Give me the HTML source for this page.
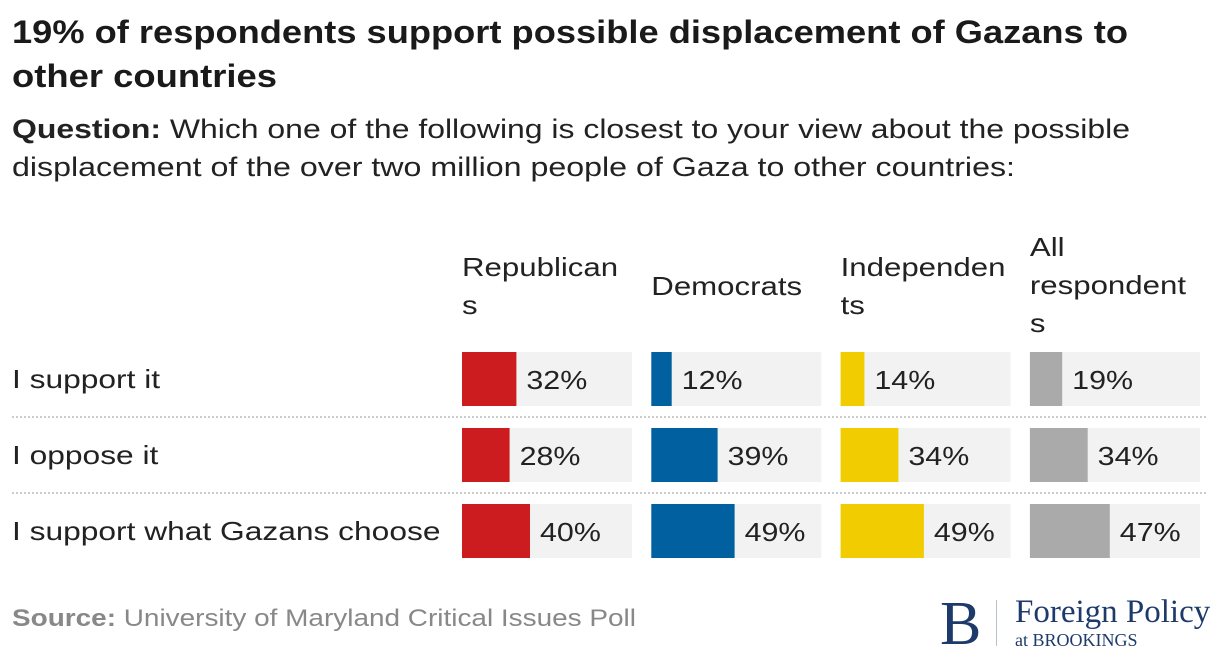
<!DOCTYPE html>
<html><head><meta charset="utf-8"><style>
body{margin:0;background:#fff;width:1220px;height:660px;overflow:hidden;font-family:"Liberation Sans",sans-serif}
</style></head><body>
<svg width="1220" height="660" xmlns="http://www.w3.org/2000/svg">
<text x="12" y="43" font-size="32" font-weight="bold" fill="#1a1a1a" textLength="1116" lengthAdjust="spacingAndGlyphs">19% of respondents support possible displacement of Gazans to</text>
<text x="12" y="87" font-size="32" font-weight="bold" fill="#1a1a1a" textLength="265" lengthAdjust="spacingAndGlyphs">other countries</text>
<text x="12" y="138" font-size="27" fill="#222" textLength="1118" lengthAdjust="spacingAndGlyphs"><tspan font-weight="bold">Question:</tspan> Which one of the following is closest to your view about the possible</text>
<text x="12" y="176" font-size="27" fill="#222" textLength="1003" lengthAdjust="spacingAndGlyphs">displacement of the over two million people of Gaza to other countries:</text>
<g id="chart" font-size="26" fill="#222"></g>
<text x="12" y="626" font-size="24" fill="#888" textLength="624" lengthAdjust="spacingAndGlyphs"><tspan font-weight="bold">Source:</tspan> University of Maryland Critical Issues Poll</text>
<g fill="#1d3a6b" font-family="Liberation Serif, serif">
<text x="940" y="644" font-size="62">B</text>
<rect x="996" y="600" width="1" height="46" fill="#b8c0cc"/>
<text x="1015" y="622" font-size="33">Foreign Policy</text>
<text x="1015" y="646" font-size="18">at BROOKINGS</text>
</g>
</svg>
<script>
const categories=["I support it","I oppose it","I support what Gazans choose"];
const groups=["Republicans","Democrats","Independents","All respondents"];
const republicans=[32,28,40];
const democrats=[12,39,49];
const independents=[14,34,49];
const allRespondents=[19,34,47];
const series=[republicans,democrats,independents,allRespondents];
const colors=["#cc1c1f","#0060a0","#f0cc00","#aaaaaa"];
const headerLines=[["Republican","s"],["Democrats"],["Independen","ts"],["All","respondent","s"]];
const NS="http://www.w3.org/2000/svg";
const g=document.getElementById("chart");
const colX=i=>462+i*189.3, rowY=j=>352+j*76, W=170, H=54;
const xs=v=>v/100*W;
function mk(t,a){const e=document.createElementNS(NS,t);for(const k in a)e.setAttribute(k,a[k]);g.appendChild(e);return e;}
function widen(t,f){const w=t.getComputedTextLength();t.setAttribute("textLength",w*f);t.setAttribute("lengthAdjust","spacingAndGlyphs");}
groups.forEach((gr,i)=>{const L=headerLines[i];const y0=L.length===3?256:(L.length===1?295:276);
 L.forEach((l,k)=>{const t=mk("text",{x:colX(i),y:y0+k*38});t.textContent=l;
 
 widen(t,1.2);});});
categories.forEach((c,j)=>{
 const t=mk("text",{x:12,y:rowY(j)+36});t.textContent=c;
 
 widen(t,1.22);
 if(j<categories.length-1){const l=mk("line",{x1:12,x2:1208,y1:rowY(j)+65,y2:rowY(j)+65,stroke:"#ccc","stroke-width":2,"stroke-dasharray":"2,2"});
 
 }
 series.forEach((s,i)=>{
  const bg=mk("rect",{x:colX(i),y:rowY(j),width:W,height:H,fill:"#f2f2f2"});
  
  
  const b=mk("rect",{x:colX(i),y:rowY(j),width:xs(s[j]),height:H,fill:colors[i]});
  
  
  const v=mk("text",{x:colX(i)+xs(s[j])+10,y:rowY(j)+37});v.textContent=s[j]+"%";
  
  widen(v,1.17);
 });
});
</script>
</body></html>
